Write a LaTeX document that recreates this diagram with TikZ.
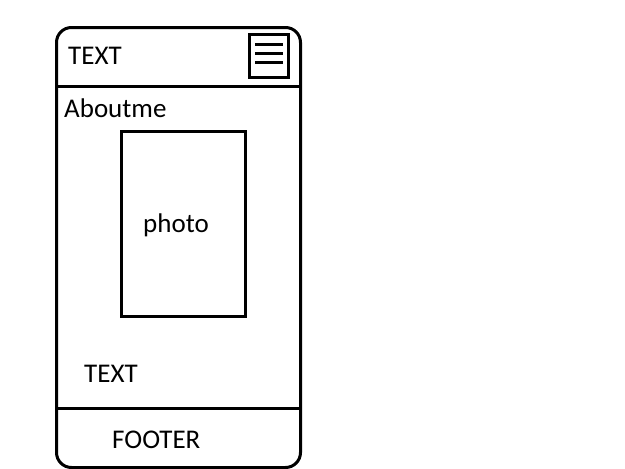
\documentclass[tikz,border=0pt]{standalone}
\usepackage{fontspec}
\setmainfont{Carlito}
\begin{document}
\begin{tikzpicture}[x=1pt,y=-1pt,
  ln/.style={line width=3pt},
  lbl/.style={anchor=base west,inner sep=0pt,font=\fontsize{27}{30}\selectfont}]
\useasboundingbox (0,0) rectangle (625,469);
\draw[ln,rounded corners=15pt] (56.5,27.5) rectangle (300.5,467.5);
\coordinate (hl) at (56.5,86.5);
\coordinate (hr) at (302,86.5);
\draw[ln] (hl) -- (hr);
\coordinate (fl) at (56.5,408.5);
\coordinate (fr) at (300.5,408.5);
\draw[ln] (fl) -- (fr);
\node[draw,ln,minimum width=39pt,minimum height=43pt,inner sep=0pt] (menu) at (269,55.5) {};
\draw[ln] (255,44) -- (283,44);
\draw[ln] (255,53) -- (283,53);
\draw[ln] (255,62) -- (283,62);
\node[draw,ln,minimum width=124pt,minimum height=185pt,inner sep=0pt] (photo) at (183,223.5) {};
\node[inner sep=0pt,font=\fontsize{27}{30}\selectfont] at (176,225) {photo};
\node[lbl] (t1) at (68,64) {TEXT};
\node[lbl] (about) at (64,117) {Aboutme};
\node[lbl] (t2) at (84,382) {TEXT};
\node[lbl] (foot) at (112,448) {FOOTER};
\end{tikzpicture}
\end{document}
